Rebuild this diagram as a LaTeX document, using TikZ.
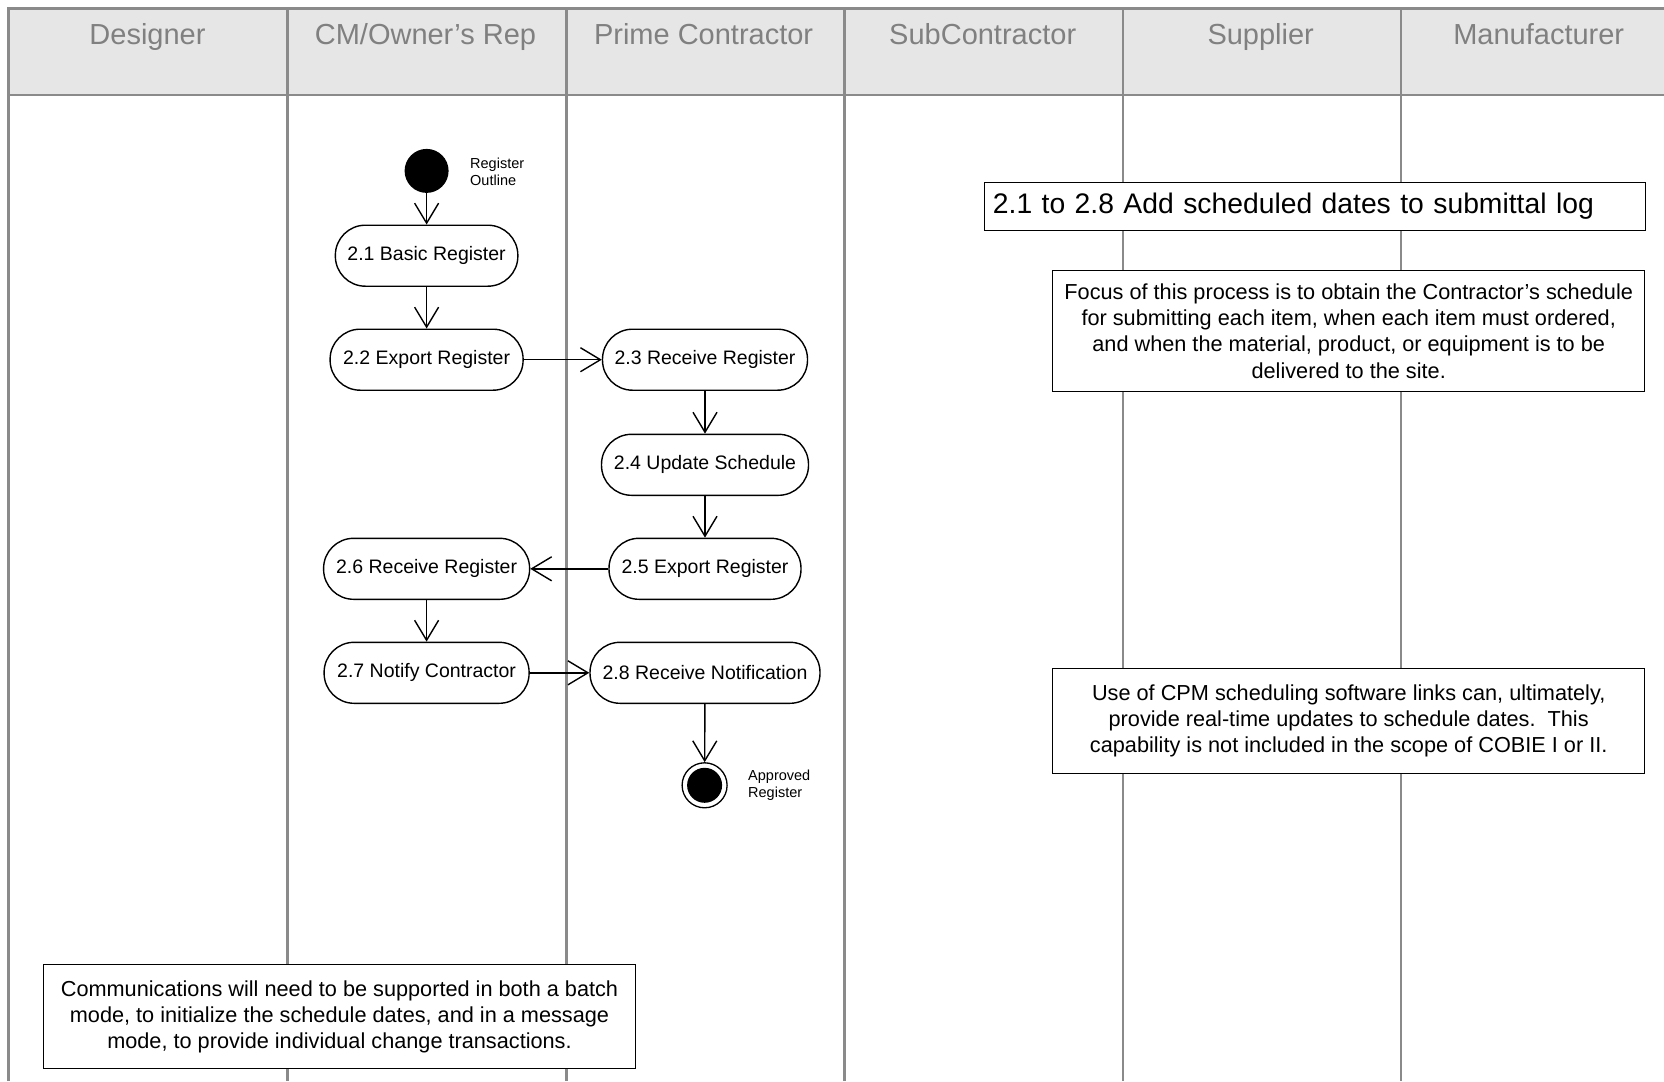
\documentclass[tikz,border=0pt]{standalone}
\usepackage{fontspec}
\setmainfont{Liberation Sans}
\usetikzlibrary{arrows.meta}
\definecolor{lanegray}{HTML}{8A8A8A}
\definecolor{headfill}{HTML}{E6E6E6}
\definecolor{headtext}{HTML}{808080}
\begin{document}
\begin{tikzpicture}[x=1pt,y=-1pt,
 lane/.style={draw=lanegray,line width=2.5pt},
 act/.style={draw=black,fill=white,line width=1.4pt,rounded corners=30pt,minimum height=61pt,inner sep=0pt,font=\fontsize{19.5}{23}\selectfont},
 flow/.style={line width=1.4pt,-{Straight Barb[length=20pt,width=24pt]}},
 note/.style={draw=black,fill=white,line width=1.4pt,inner sep=0pt,align=center,font=\fontsize{21.7}{26.2}\selectfont},
 small/.style={font=\fontsize{14.5}{17}\selectfont,align=left,anchor=west,inner sep=0pt},
 headlabel/.style={text=headtext,font=\fontsize{29}{30}\selectfont,inner sep=0pt,anchor=base}
]
\useasboundingbox (0,0) rectangle (1664,1081);
\fill[headfill] (8.5,8.5) rectangle (1664,95);
\draw[lane] (8.5,1081) -- (8.5,8.5) -- (1664,8.5);
\draw[lane] (8.5,95) -- (1664,95);
\foreach \x in {287.6,566.7,844.7,1122.8,1400.8} \draw[lane] (\x,8.5) -- (\x,1081);
% header labels
\node[headlabel] (hd) at (147.5,45) {Designer};
\node[headlabel] (hc) at (425.5,45) {CM/Owner's Rep};
\node[headlabel] (hp) at (703.6,45) {Prime Contractor};
\node[headlabel] (hs) at (982.7,45) {SubContractor};
\node[headlabel] (hsu) at (1260.7,45) {Supplier};
\node[headlabel] (hm) at (1538.7,45) {Manufacturer};
% start
\node[circle,fill=black,minimum size=44pt,inner sep=0pt] (start) at (426.6,170.9) {};
\node[small] (startlbl) at (470,171.5) {Register\\Outline};
% activities
\node[act,minimum width=182.5pt] (n21) at (426.6,255.7) {2.1 Basic Register};
\node[act,minimum width=193pt] (n22) at (426.6,359.7) {2.2 Export Register};
\node[act,minimum width=205pt] (n23) at (705,359.7) {2.3 Receive Register};
\node[act,minimum width=207pt] (n24) at (705,464.8) {2.4 Update Schedule};
\node[act,minimum width=192pt] (n25) at (705,568.8) {2.5 Export Register};
\node[act,minimum width=206pt] (n26) at (426.6,568.8) {2.6 Receive Register};
\node[act,minimum width=205pt] (n27) at (426.6,672.8) {2.7 Notify Contractor};
\node[act,minimum width=230pt] (n28) at (705,672.8) {2.8 Receive Notification};
% end
\node[circle,draw=black,line width=1.3pt,fill=white,minimum size=45pt,inner sep=0pt] (finish) at (704.6,785.3) {};
\fill[black] (finish.center) circle (17.5);
\node[small] (endlbl) at (748,785.5) {Approved\\Register};
% flows
\draw[flow] (start) -- (n21);
\draw[flow] (n21) -- (n22);
\draw[flow] (n22) -- (n23);
\draw[flow] (n23) -- (n24);
\draw[flow] (n24) -- (n25);
\draw[flow] (n25) -- (n26);
\draw[flow] (n26) -- (n27);
\draw[flow] (n27) -- (n28);
\draw[flow] (n28) -- (finish);
% notes
\node[draw=black,fill=white,line width=1.4pt,text width=644pt,align=left,minimum height=48pt,inner xsep=8.5pt,inner ysep=0pt,anchor=west,font=\fontsize{28.3}{32}\selectfont] (title) at (983.7,206.4) {2.1 to 2.8 Add scheduled dates to submittal log};
\node[note,minimum width=592pt,minimum height=121pt] (focus) at (1348.7,331) {Focus of this process is to obtain the Contractor's schedule\\for submitting each item, when each item must ordered,\\and when the material, product, or equipment is to be\\delivered to the site.};
\node[note,minimum width=592pt,minimum height=105pt] (cpm) at (1348.7,721) {Use of CPM scheduling software links can, ultimately,\\provide real-time updates to schedule dates.\ \ This\\capability is not included in the scope of COBIE I or II.};
\node[note,minimum width=592pt,minimum height=104pt] (comm) at (339.5,1016.6) {Communications will need to be supported in both a batch\\mode, to initialize the schedule dates, and in a message\\mode, to provide individual change transactions.};
\end{tikzpicture}
\end{document}
